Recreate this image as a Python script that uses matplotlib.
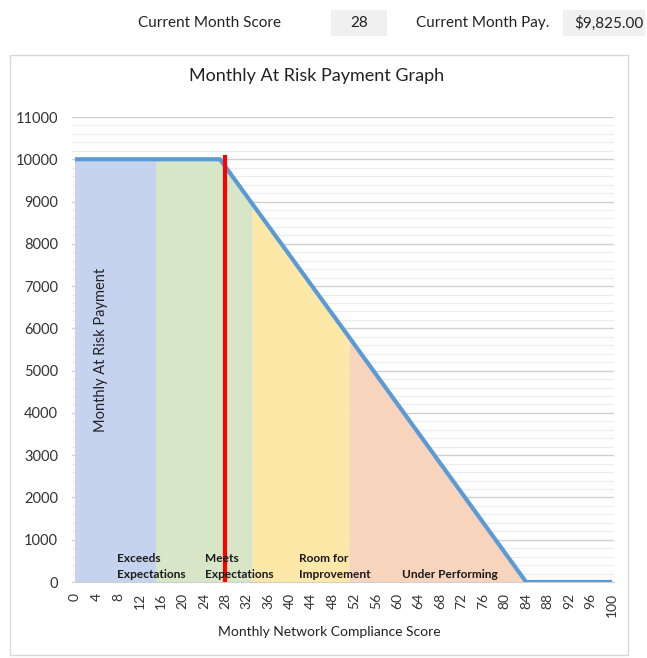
import numpy as np
import matplotlib.pyplot as plt
from matplotlib.patches import Rectangle

plt.rcParams['font.family'] = ['Lato', 'DejaVu Sans']

# line breakpoints (score, pay)
score = [0, 15, 27, 33, 51, 84, 100]
pay = [10000, 10000, 10000, 8950, 5800, 0, 0]

# zones: (start, end, colour, label)
zone_edges = [0, 15, 33, 51, 84]
zone_colors = ['#c6d3ee', '#d6e6c6', '#fde8a8', '#f8d4bd']
zone_labels = ['Exceeds\nExpectations', 'Meets\nExpectations', 'Room for\nImprovement', 'Under Performing']
label_x = [7.8, 24.2, 41.8, 60.8]

current_score = 28
current_pay = '$9,825.00'

W, H = 647, 658
fig = plt.figure(figsize=(W / 100, H / 100), dpi=100)

def fx(px):
    return px / W

def fy(py):
    return 1 - py / H

# chart border
fig.patches.append(Rectangle((fx(10), fy(655)), fx(618), 600 / H, transform=fig.transFigure,
                             fill=False, edgecolor='#d9d9d9', lw=1))

# header
fig.text(fx(138), fy(23), 'Current Month Score', fontsize=11, va='center', color='#222222')
fig.patches.append(Rectangle((fx(331), fy(36)), fx(56), 26 / H, transform=fig.transFigure,
                             facecolor='#f0f0f0', edgecolor='none'))
fig.text(fx(359), fy(23), str(current_score), fontsize=11, va='center', ha='center', color='#222222')
fig.text(fx(416), fy(23), 'Current Month Pay.', fontsize=11, va='center', color='#222222')
fig.patches.append(Rectangle((fx(563), fy(36)), fx(82), 26 / H, transform=fig.transFigure,
                             facecolor='#f0f0f0', edgecolor='none'))
fig.text(fx(643), fy(23), current_pay, fontsize=11, va='center', ha='right', color='#222222')

ax = fig.add_axes([fx(72), fy(582), fx(614 - 72), 465 / H])
ax.set_xlim(-0.56, 100.37)
ax.set_ylim(0, 11000)

# gridlines
for v in range(0, 11001, 200):
    if v % 1000 == 0:
        ax.axhline(v, color='#d0d0d0', lw=1, zorder=0)
    else:
        ax.axhline(v, color='#ececec', lw=0.8, zorder=0)

# zone fills under the line
s = np.array(score, dtype=float)
p = np.array(pay, dtype=float)
for i in range(len(zone_colors)):
    a, b = zone_edges[i], zone_edges[i + 1]
    m = (s >= a) & (s <= b)
    ax.fill_between(s[m], 0, p[m], color=zone_colors[i], lw=0, zorder=1)

ax.plot(score, pay, color='#5b9bd5', lw=3, zorder=3, solid_capstyle='butt')
ax.plot([current_score, current_score], [0, 10050], color='#ff0000', lw=3, zorder=4)

for lx, lab in zip(label_x, zone_labels):
    ax.text(lx, 40, lab, fontsize=8.6, fontweight='bold', ha='left', va='bottom',
            color='#1a1a1a', linespacing=1.55, zorder=5)

ax.set_xticks(range(0, 101, 4))
ax.set_xticklabels([str(v) for v in range(0, 101, 4)], rotation=90, fontsize=10, color='#333333')
ax.set_yticks(range(0, 11001, 1000))
ax.set_yticklabels([str(v) for v in range(0, 11001, 1000)], fontsize=10.5, color='#333333')
ax.tick_params(axis='y', length=0, pad=10)
ax.tick_params(axis='x', length=0, pad=8)

for sp in ['top', 'right', 'left']:
    ax.spines[sp].set_visible(False)
ax.spines['bottom'].set_color('#d0d0d0')

fig.text(fx(317), fy(76), 'Monthly At Risk Payment Graph', fontsize=13, color='#222222',
         ha='center', va='center')
fig.text(fx(329), fy(632), 'Monthly Network Compliance Score', fontsize=10, color='#222222',
         ha='center', va='center')
ax.text(4.9, 5500, 'Monthly At Risk Payment', rotation=90, fontsize=10.5, ha='center', va='center',
        color='#222222', zorder=5)

fig.savefig('out.png', dpi=100)
